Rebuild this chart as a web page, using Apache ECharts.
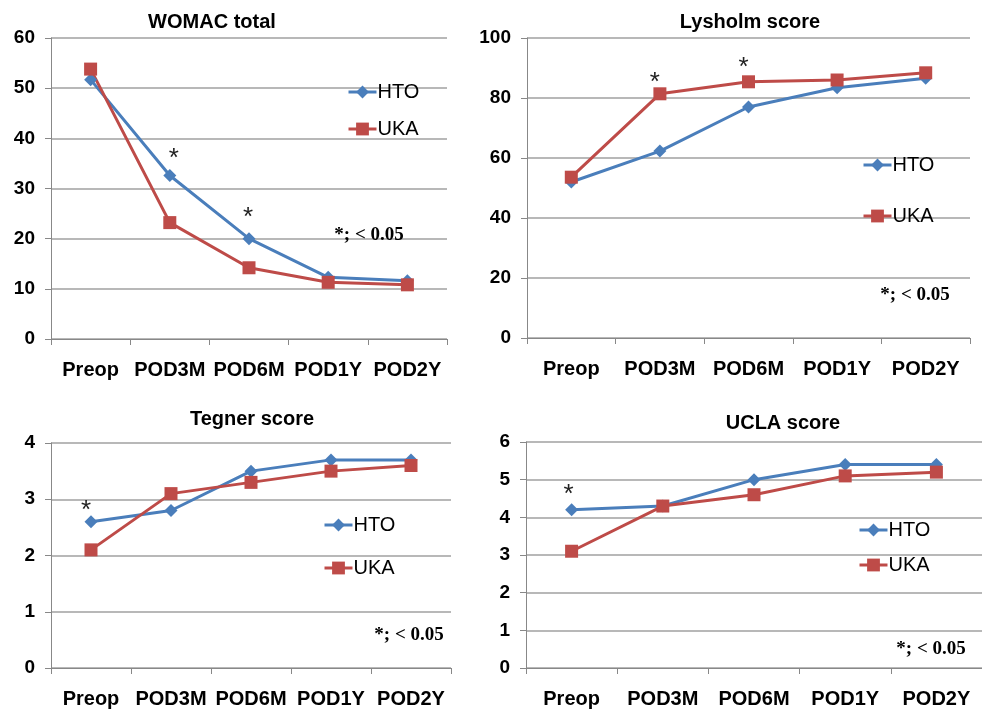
<!DOCTYPE html>
<html><head><meta charset="utf-8">
<script src="https://cdn.jsdelivr.net/npm/echarts@6/dist/echarts.min.js"></script>
<style>html,body{margin:0;padding:0;background:#fff}#c{width:982px;height:709px}</style>
</head><body><div id="c"></div>
<script>
const categories = ['Preop','POD3M','POD6M','POD1Y','POD2Y'];
const titles = ['WOMAC total','Lysholm score','Tegner score','UCLA score'];
const womacHTO = [51.7, 32.6, 20.0, 12.3, 11.6];
const womacUKA = [53.8, 23.2, 14.2, 11.3, 10.8];
const lysHTO = [52.0, 62.3, 77.0, 83.4, 86.6];
const lysUKA = [53.6, 81.4, 85.4, 86.0, 88.4];
const tegHTO = [2.6, 2.8, 3.5, 3.7, 3.7];
const tegUKA = [2.1, 3.1, 3.3, 3.5, 3.6];
const uclaHTO = [4.2, 4.3, 5.0, 5.4, 5.4];
const uclaUKA = [3.1, 4.3, 4.6, 5.1, 5.2];
const yMax = [60, 100, 4, 6];
const yInterval = [10, 20, 1, 1];
// significance stars: [panel, category, value]
const stars = [[0,'POD3M',36.0],[0,'POD6M',24.2],[1,'POD3M',85.0],[1,'POD6M',90.0],[2,'Preop',2.8],[3,'Preop',4.6]];
const sigNote = '*; < 0.05';

const htoSets = [womacHTO, lysHTO, tegHTO, uclaHTO];
const ukaSets = [womacUKA, lysUKA, tegUKA, uclaUKA];

const grids = [
  {left:51, top:38, width:396, height:301},
  {left:527, top:38, width:443, height:300},
  {left:51, top:443, width:400, height:226},
  {left:526, top:442, width:465, height:226}
];
const titlePos = [[212,12],[750,12],[252,409],[783,413]];
const legendPos = [[347,82,17],[862,155,31],[323,515,23],[858,520,15]];
const notePos = [[369,226],[915,286],[409,626],[931,640]];
const starOff = [[4,0],[-1,0],[-5,0],[-5,0],[-5,0],[-3,0]];

const BLUE = '#4a7ebb', RED = '#be4b48', GRID = '#a0a0a0', AX = '#888888';
const FONT = '"Liberation Sans", Arial, sans-serif';

const option = {
  animation:false,
  backgroundColor:'#fff',
  title: [],
  legend: [],
  grid: grids,
  xAxis: [], yAxis: [], series: []
};

for (let i=0;i<4;i++){
  option.title.push({text:titles[i], left:titlePos[i][0], top:titlePos[i][1], textAlign:'center', padding:0,
    textStyle:{fontFamily:FONT, fontWeight:'bold', fontSize:20, color:'#000'}});
  option.title.push({text:sigNote, left:notePos[i][0], top:notePos[i][1], textAlign:'center', padding:0,
    textStyle:{fontFamily:'"Liberation Serif", "Times New Roman", serif', fontWeight:'bold', fontSize:19, color:'#000'}});
  option.legend.push({data:['HTO','UKA'], orient:'vertical', left:legendPos[i][0], top:legendPos[i][1],
    itemGap:legendPos[i][2], itemWidth:28, itemHeight:16, padding:0, selectedMode:false,
    lineStyle:{width:3},
    textStyle:{fontFamily:FONT, fontSize:20, color:'#000', padding:[0,0,0,-4]}});
  option.xAxis.push({type:'category', gridIndex:i, data:categories, boundaryGap:true,
    axisLine:{lineStyle:{color:AX, width:1}},
    axisTick:{show:true, length:6, lineStyle:{color:AX}},
    axisLabel:{fontFamily:FONT, fontWeight:'bold', fontSize:20, color:'#000', margin:21, interval:0},
    splitLine:{show:false}});
  option.yAxis.push({type:'value', gridIndex:i, min:0, max:yMax[i], interval:yInterval[i],
    axisLine:{show:true, lineStyle:{color:AX, width:1}},
    axisTick:{show:true, length:6, lineStyle:{color:AX}},
    axisLabel:{fontFamily:FONT, fontWeight:'bold', fontSize:19, color:'#000', margin:16},
    splitLine:{show:true, lineStyle:{color:GRID, width:1.5}}});
  const mp = stars.map((s,k)=>[s,k]).filter(([s])=>s[0]===i).map(([s,k])=>({
    coord:[s[1], s[2]], label:{offset:starOff[k]}}));
  option.series.push({name:'HTO', type:'line', xAxisIndex:i, yAxisIndex:i, data:htoSets[i],
    symbol:'diamond', symbolSize:13, itemStyle:{color:BLUE}, lineStyle:{color:BLUE, width:3},
    markPoint:{symbol:'circle', symbolSize:1, itemStyle:{color:'rgba(0,0,0,0)'}, silent:true,
      label:{show:true, formatter:'*', position:'inside', color:'#222', fontFamily:FONT, fontSize:26},
      data:mp}});
  option.series.push({name:'UKA', type:'line', xAxisIndex:i, yAxisIndex:i, data:ukaSets[i],
    symbol:'rect', symbolSize:13, itemStyle:{color:RED}, lineStyle:{color:RED, width:3}});
}
const chart = echarts.init(document.getElementById('c'), null, {renderer:'canvas'});
chart.setOption(option);
</script></body></html>
